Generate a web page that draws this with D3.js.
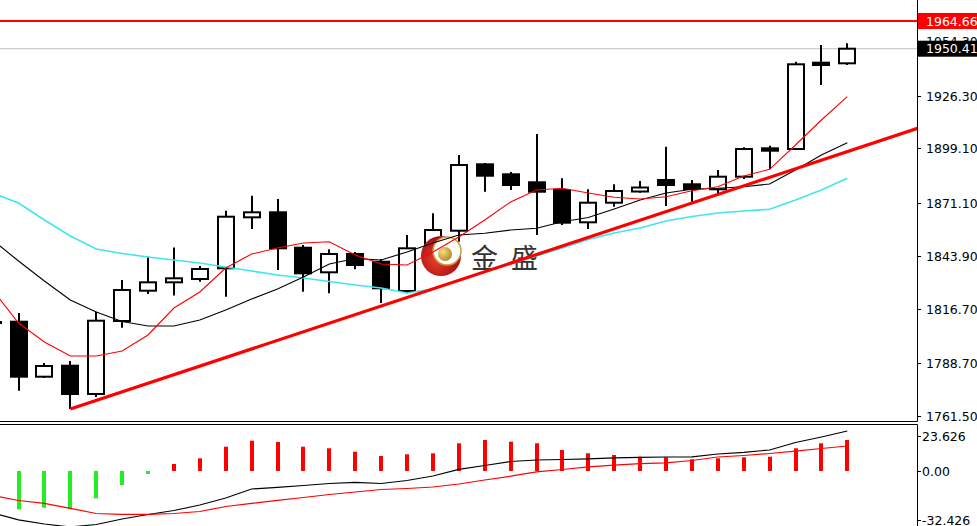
<!DOCTYPE html>
<html><head><meta charset="utf-8">
<script src="https://cdn.jsdelivr.net/npm/d3@7/dist/d3.min.js"></script>
<style>html,body{margin:0;padding:0;background:#fff;overflow:hidden}svg{display:block}</style>
</head><body><svg id="c" width="977" height="526"></svg>
<script>
// ---------- DATA (bar index -1 .. 32) ----------
const bars = d3.range(-1, 33);
const opens  = [1809.85,1810.00,1781.71,1787.37,1772.82,1810.36,1825.94,1830.26,1831.96,1837.46,1863.69,1866.27,1848.06,1835.41,1844.82,1840.86,1825.79,1840.70,1856.80,1890.95,1885.81,1881.70,1877.74,1861.12,1871.20,1876.96,1882.88,1880.67,1878.10,1884.58,1899.18,1898.82,1943.21,1942.90];
const highs  = [1812.00,1814.47,1788.76,1789.79,1815.14,1831.45,1843.43,1848.16,1838.65,1867.09,1874.80,1873.11,1849.45,1847.24,1845.85,1842.25,1854.59,1865.75,1895.74,1891.62,1886.99,1906.54,1883.75,1878.10,1880.67,1882.37,1900.01,1882.88,1888.02,1899.70,1900.52,1943.72,1952.31,1953.19];
const lows   = [1806.00,1774.51,1781.04,1765.10,1771.27,1806.91,1824.25,1823.48,1830.57,1822.86,1857.68,1836.59,1825.43,1824.61,1836.95,1819.62,1824.61,1837.62,1851.15,1876.86,1877.74,1854.59,1859.73,1857.68,1869.15,1876.35,1869.51,1871.72,1875.68,1883.39,1888.38,1898.31,1931.74,1942.03];
const closes = [1809.85,1781.71,1787.22,1772.82,1810.51,1826.30,1830.26,1832.32,1837.10,1864.00,1866.27,1847.75,1834.89,1844.82,1839.16,1827.18,1847.75,1857.16,1890.59,1885.09,1880.31,1876.86,1860.92,1871.20,1877.22,1879.02,1880.31,1878.25,1884.58,1898.82,1897.95,1942.39,1942.03,1950.41];

const maFast = [1826.30,1809.33,1799.56,1792.36,1792.36,1794.93,1803.16,1817.05,1825.28,1837.62,1844.82,1847.91,1850.48,1851.15,1844.31,1839.68,1839.16,1845.85,1853.56,1862.31,1871.56,1877.74,1878.61,1876.19,1873.98,1873.11,1874.29,1877.38,1879.43,1884.94,1888.38,1900.88,1913.74,1925.72];
const maMid  = [1852.02,1841.22,1830.93,1821.16,1814.99,1810.10,1807.79,1807.79,1810.87,1816.02,1821.68,1826.82,1832.99,1839.68,1842.51,1841.73,1845.85,1850.48,1854.59,1855.47,1857.16,1858.04,1861.43,1863.59,1867.96,1872.59,1876.19,1878.10,1878.61,1879.43,1880.82,1888.02,1895.74,1902.06];
const maSlow = [1876.19,1871.05,1862.31,1854.08,1847.39,1845.08,1843.28,1841.73,1840.19,1838.13,1836.08,1834.02,1832.48,1830.67,1828.88,1827.33,1824.76,1826.82,1831.45,1835.56,1839.68,1843.79,1847.91,1852.28,1855.62,1858.19,1861.79,1864.11,1865.91,1866.94,1867.81,1872.59,1877.74,1883.75];

const histo  = [-20.0,-25.49,-24.42,-25.49,-18.17,-9.32,-2.00,4.66,8.45,16.17,20.17,19.30,16.17,15.11,12.84,9.98,11.11,11.78,18.43,20.63,19.50,18.43,13.98,11.78,10.65,9.52,9.12,7.79,8.45,9.12,9.52,15.11,18.43,20.63];
const macdLine = [-27.95,-32.48,-35.27,-37.27,-35.60,-31.94,-28.95,-26.29,-22.63,-17.97,-11.98,-10.85,-9.65,-8.32,-7.52,-8.32,-6.32,-3.33,1.13,3.66,6.32,7.32,7.65,8.12,8.78,9.12,9.32,9.45,11.31,12.45,13.98,18.97,22.63,26.62];
const signalLine = [-16.30,-19.63,-21.50,-24.82,-28.28,-28.82,-28.82,-28.28,-26.95,-23.63,-21.50,-19.50,-17.64,-15.64,-13.98,-12.31,-11.65,-10.65,-8.65,-5.99,-3.46,-0.53,1.00,2.80,3.86,4.92,5.46,6.99,9.32,10.32,11.65,13.18,14.97,16.64];

const priceTicks = [1761.50,1788.70,1816.70,1843.90,1871.10,1899.10,1926.30,1954.30];
const macdTicks = [23.626, 0.00, -32.426];
const resistance = 1964.66;
const lastPrice = 1950.41;
const trendA = {i: 2, p: 1765.10};
const trendB = {i: 32, p: 1897.50};

// ---------- LAYOUT ----------
const W = 977, H = 526, axisX = 917, mainBottom = 421, subTop = 424;
const svg = d3.select('#c');
const x = d3.scaleLinear().domain([0, 32]).range([18.5, 847.3]);
const y = d3.scaleLinear().domain([1761.5, 1964.66]).range([416, 21]);
const ym = d3.scaleLinear().domain([0, 23.626]).range([471, 435.5]);

const defs = svg.append('defs');
defs.append('clipPath').attr('id','cpMain').append('rect').attr('x',0).attr('y',0).attr('width',axisX).attr('height',mainBottom);
defs.append('clipPath').attr('id','cpSub').append('rect').attr('x',0).attr('y',subTop+1).attr('width',axisX).attr('height',H-subTop-1);
const rg = defs.append('radialGradient').attr('id','redG').attr('cx','40%').attr('cy','60%').attr('r','60%');
rg.append('stop').attr('offset','0%').attr('stop-color','#e8402a');
rg.append('stop').attr('offset','100%').attr('stop-color','#a80d14');
const gg = defs.append('radialGradient').attr('id','goldG').attr('cx','35%').attr('cy','35%').attr('r','70%');
gg.append('stop').attr('offset','0%').attr('stop-color','#f4e07a');
gg.append('stop').attr('offset','100%').attr('stop-color','#b8862a');

const main = svg.append('g').attr('clip-path','url(#cpMain)');

// horizontal lines
main.append('line').attr('x1',0).attr('x2',axisX).attr('y1',y(lastPrice)).attr('y2',y(lastPrice))
  .attr('stroke','#c0c0c0').attr('stroke-width',1);
main.append('line').attr('x1',0).attr('x2',axisX).attr('y1',y(resistance)).attr('y2',y(resistance))
  .attr('stroke','#ff0000').attr('stroke-width',2);

// candles
const data = bars.map((b,k)=>({i:b,o:opens[k],h:highs[k],l:lows[k],c:closes[k]}));
const cg = main.append('g');
data.forEach(d=>{
  const cx = Math.round(x(d.i));
  cg.append('line').attr('x1',cx).attr('x2',cx).attr('y1',y(d.h)).attr('y2',y(d.l))
    .attr('stroke','#000').attr('stroke-width',2);
  const top = y(Math.max(d.o,d.c)), bot = y(Math.min(d.o,d.c));
  const bull = d.c > d.o;
  cg.append('rect').attr('x',cx-8).attr('y',top).attr('width',16).attr('height',Math.max(1,bot-top))
    .attr('fill', bull ? '#fff' : '#000').attr('stroke','#000').attr('stroke-width',2);
});

// watermark logo
const lg = main.append('g');
lg.append('circle').attr('cx',441).attr('cy',256).attr('r',20).attr('fill','url(#redG)');
lg.append('circle').attr('cx',447).attr('cy',251).attr('r',14).attr('fill','#fff').attr('stroke','#c9a03a').attr('stroke-width',1.5);
lg.append('circle').attr('cx',445).attr('cy',254).attr('r',7).attr('fill','url(#goldG)');
lg.append('text').attr('x',471).attr('y',268).text('金')
  .attr('font-family','"Noto Sans CJK SC"').attr('font-size',27).attr('fill','#333');
lg.append('text').attr('x',511).attr('y',268).text('盛')
  .attr('font-family','"Noto Sans CJK SC"').attr('font-size',27).attr('fill','#333');

// moving averages
const lineGen = arr => d3.line().x((v,k)=>x(bars[k])).y(v=>y(v))(arr);
main.append('path').attr('d',lineGen(maSlow)).attr('fill','none').attr('stroke','#3fe6f2').attr('stroke-width',1.6);
main.append('path').attr('d',lineGen(maMid)).attr('fill','none').attr('stroke','#000').attr('stroke-width',1.1);
main.append('path').attr('d',lineGen(maFast)).attr('fill','none').attr('stroke','#ff0000').attr('stroke-width',1.1);

// trendline
const slope = (trendB.p - trendA.p)/(trendB.i - trendA.i);
const endI = 36;
main.append('line').attr('x1',x(trendA.i)).attr('y1',y(trendA.p))
  .attr('x2',x(endI)).attr('y2',y(trendA.p + slope*(endI-trendA.i)))
  .attr('stroke','#ff0000').attr('stroke-width',3.2);

// ---------- SUB PANEL ----------
const sub = svg.append('g').attr('clip-path','url(#cpSub)');
bars.forEach((b,k)=>{
  const v = histo[k], cx = Math.round(x(b));
  const y0 = ym(0), y1 = ym(v);
  sub.append('rect').attr('x',cx-2).attr('width',4)
    .attr('y',Math.min(y0,y1)).attr('height',Math.abs(y1-y0))
    .attr('fill', v >= 0 ? '#ff0000' : '#22ee22');
});
const subLine = arr => d3.line().x((v,k)=>x(bars[k])).y(v=>ym(v))(arr);
sub.append('path').attr('d',subLine(macdLine)).attr('fill','none').attr('stroke','#000').attr('stroke-width',1.2);
sub.append('path').attr('d',subLine(signalLine)).attr('fill','none').attr('stroke','#ff0000').attr('stroke-width',1.2);

// ---------- FRAMES & AXES ----------
svg.append('line').attr('x1',0).attr('x2',axisX+0.5).attr('y1',mainBottom+0.5).attr('y2',mainBottom+0.5).attr('stroke','#000');
svg.append('line').attr('x1',0).attr('x2',axisX+0.5).attr('y1',subTop+0.5).attr('y2',subTop+0.5).attr('stroke','#000');
svg.append('line').attr('x1',axisX+0.5).attr('x2',axisX+0.5).attr('y1',0).attr('y2',mainBottom+0.5).attr('stroke','#000');
svg.append('line').attr('x1',axisX+0.5).attr('x2',axisX+0.5).attr('y1',subTop+0.5).attr('y2',H).attr('stroke','#000');

const font = 'Tahoma, "DejaVu Sans", sans-serif';
const ax = svg.append('g');
priceTicks.forEach(t=>{
  const yy = Math.round(y(t))+0.5;
  ax.append('line').attr('x1',axisX).attr('x2',axisX+4).attr('y1',yy).attr('y2',yy).attr('stroke','#000');
  ax.append('text').attr('x',926).attr('y',yy).attr('dy','0.36em').text(t.toFixed(2))
    .attr('font-family',font).attr('font-size',12.5).attr('fill','#000');
});
macdTicks.forEach(t=>{
  const yy = Math.round(ym(t))+0.5;
  ax.append('line').attr('x1',axisX).attr('x2',axisX+4).attr('y1',yy).attr('y2',yy).attr('stroke','#000');
  ax.append('text').attr('x',922).attr('y',yy).attr('dy','0.36em').text(t === 0 ? '0.00' : String(t))
    .attr('font-family',font).attr('font-size',12.5).attr('fill','#000');
});
// price markers
[[resistance,'#ff0000'],[lastPrice,'#000']].forEach(([p,col])=>{
  const yy = y(p);
  ax.append('rect').attr('x',axisX+1).attr('y',yy-8).attr('width',W-axisX).attr('height',16).attr('fill',col);
  ax.append('text').attr('x',926).attr('y',yy).attr('dy','0.36em').text(p.toFixed(2))
    .attr('font-family',font).attr('font-size',12.5).attr('fill','#fff');
});
</script>
</body></html>
